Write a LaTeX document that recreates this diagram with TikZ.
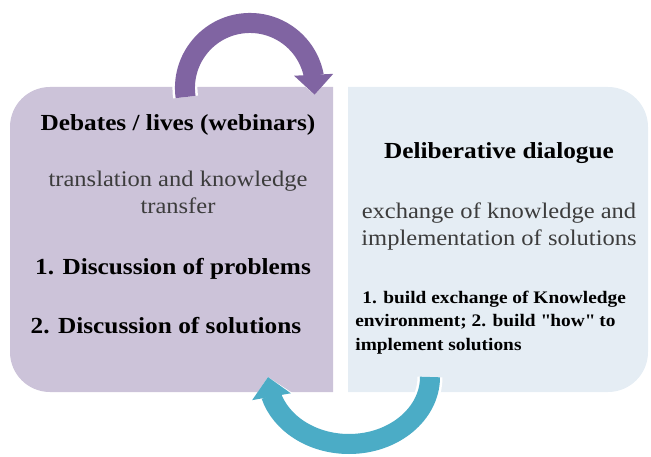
\documentclass[tikz,border=0pt]{standalone}
\usepackage{fontspec}
\setmainfont[FakeStretch=1.1]{Liberation Serif}
\usetikzlibrary{positioning,arrows.meta,bending}
\definecolor{debatefill}{HTML}{CCC3D9}
\definecolor{dialoguefill}{HTML}{E5EDF4}
\definecolor{arcpurple}{HTML}{8064A2}
\definecolor{arcteal}{HTML}{4BACC6}
\definecolor{bodygray}{HTML}{3C3C3C}

\begin{document}
\begin{tikzpicture}[x=1pt,y=1pt,
    heading/.style={font=\fontsize{23}{27}\selectfont\bfseries, inner sep=0pt},
    plain/.style={font=\fontsize{22.3}{27}\selectfont, text=bodygray, align=center, inner sep=0pt},
    steps/.style={font=\fontsize{17.6}{23.5}\selectfont\bfseries, align=left, inner sep=0pt},
    loop/.style={line width=20pt, -{Triangle[width=38pt,length=20pt]},
        preaction={draw=white, line width=25pt, -{Triangle[width=45pt,length=23pt]}}}
]
\useasboundingbox (0,0) rectangle (651,456);

% the two panels
\fill[debatefill, rounded corners=40pt] (170,64) -- (10,64) -- (10,369) -- (170,369)
    [sharp corners] -- (333,369) -- (333,64) -- cycle;
\fill[dialoguefill, rounded corners=40pt] (498,64) -- (648,64) -- (648,369) -- (498,369)
    [sharp corners] -- (348,369) -- (348,64) -- cycle;

% left panel
\node[heading] (debates) at (178,331) { Debates / lives (webinars) };
\node[plain, below=35pt of debates] (transfer) { translation and knowledge\\transfer };
\node[heading, below=44pt of transfer.south, anchor=north, xshift=-5pt] (problems) { 1. Discussion of problems };
\node[heading, below=38pt of problems.south, anchor=north, xshift=-7pt] (solutions) { 2. Discussion of solutions };

% right panel
\node[heading] (dialogue) at (499,303) { Deliberative dialogue };
\node[plain, below=39pt of dialogue] (exchange) { exchange of knowledge and\\implementation of solutions };
\node[steps, below=40pt of exchange.south west, anchor=north west, xshift=-6pt] (build)
    { \hspace{0.4em}1. build exchange of Knowledge\\environment; 2. build \textquotedbl how\textquotedbl\ to\\implement solutions };

% loop arrows
\coordinate (topstart) at (185.6,359);
\coordinate (bottomstart) at (430,79);
\draw[loop, arcpurple] (topstart) arc[start angle=188, end angle=-6, radius=65];
\draw[loop, arcteal] (bottomstart) arc[start angle=0, end angle=-180, x radius=81, y radius=67];

\end{tikzpicture}
\end{document}
